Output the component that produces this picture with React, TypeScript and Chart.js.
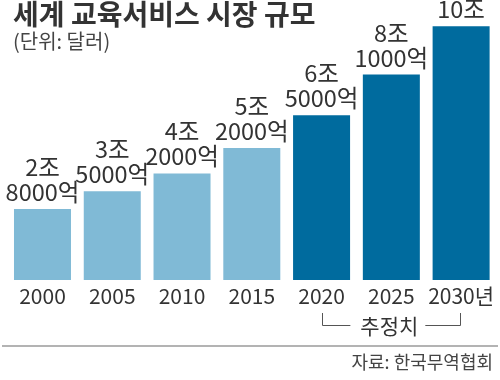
import React, { useEffect, useRef } from "react";
import { Chart, registerables } from "chart.js";

Chart.register(...registerables);

const years = ["2000", "2005", "2010", "2015", "2020", "2025", "2030"];
const yearTickLabels = ["2000", "2005", "2010", "2015", "2020", "2025", "2030년"];
const marketSize = [2.8, 3.5, 4.2, 5.2, 6.5, 8.1, 10.0]; // 조 달러
const labelJo = ["2조", "3조", "4조", "5조", "6조", "8조", "10조"];
const labelEok = ["8000억", "5000억", "2000억", "2000억", "5000억", "1000억", ""];
const estimateStartIndex = 4;
const estimateLabel = "추정치";

const TITLE = "세계 교육서비스 시장 규모";
const SUBTITLE = "(단위: 달러)";
const SOURCE = "자료: 한국무역협회";

const FONT = '"Noto Sans CJK KR", "Noto Sans", sans-serif';
const LIGHT = "#80bad6";
const DARK = "#006b9e";
const TEXT = "#333333";

const decorPlugin = {
  id: "decor",
  afterDatasetsDraw(chart: any) {
    const ctx = chart.ctx as CanvasRenderingContext2D;
    const xs = chart.scales.x;
    const meta = chart.getDatasetMeta(0);
    ctx.save();
    ctx.fillStyle = TEXT;
    ctx.textAlign = "center";
    ctx.textBaseline = "alphabetic";
    // value labels
    ctx.font = `23.5px ${FONT}`;
    meta.data.forEach((bar: any, i: number) => {
      const x = bar.x;
      const top = bar.y;
      if (labelEok[i]) {
        ctx.fillText(labelEok[i], x, top - 8);
        ctx.fillText(labelJo[i], x, top - 33);
      } else {
        ctx.fillText(labelJo[i], x, top - 8);
      }
    });
    // year labels
    ctx.font = `21px ${FONT}`;
    yearTickLabels.forEach((lab, i) => {
      const x = xs.getPixelForValue(i);
      ctx.fillText(lab, x, 304);
    });
    // bracket for estimates
    const xa = xs.getPixelForValue(estimateStartIndex);
    const xb = xs.getPixelForValue(years.length - 1);
    const xm = xs.getPixelForValue(Math.round((estimateStartIndex + years.length - 1) / 2));
    ctx.font = `21px ${FONT}`;
    const tw = ctx.measureText(estimateLabel).width;
    const by = 325.5;
    ctx.fillText(estimateLabel, xm - 2, by + 8);
    ctx.strokeStyle = "#555555";
    ctx.lineWidth = 1;
    ctx.beginPath();
    ctx.moveTo(Math.round(xa) + 0.5, 313);
    ctx.lineTo(Math.round(xa) + 0.5, by);
    ctx.lineTo(xm - 2 - tw / 2 - 10, by);
    ctx.moveTo(xm - 2 + tw / 2 + 7, by);
    ctx.lineTo(Math.round(xb) - 0.5, by);
    ctx.lineTo(Math.round(xb) - 0.5, 313);
    ctx.stroke();
    // bottom rule
    ctx.strokeStyle = "#9a9a9a";
    ctx.lineWidth = 1.5;
    ctx.beginPath();
    ctx.moveTo(2, 346);
    ctx.lineTo(498, 346);
    ctx.stroke();
    // source
    ctx.textAlign = "right";
    ctx.fillStyle = "#444444";
    ctx.font = `18px ${FONT}`;
    ctx.fillText(SOURCE, 493, 369);
    // title
    ctx.textAlign = "left";
    ctx.fillStyle = TEXT;
    ctx.font = `bold 28px ${FONT}`;
    ctx.fillText(TITLE, 13, 25);
    ctx.fillStyle = "#444444";
    ctx.font = `20px ${FONT}`;
    ctx.fillText(SUBTITLE, 13, 49);
    ctx.restore();
  },
};

export default function App() {
  const ref = useRef<HTMLCanvasElement | null>(null);
  useEffect(() => {
    if (!ref.current) return;
    const chart = new Chart(ref.current, {
      type: "bar",
      data: {
        labels: years,
        datasets: [
          {
            data: marketSize,
            backgroundColor: (c: any) => (c.dataIndex >= estimateStartIndex ? DARK : LIGHT),
            borderWidth: 0,
            barPercentage: 0.817,
            categoryPercentage: 1,
          },
        ],
      },
      options: {
        responsive: false,
        animation: false,
        layout: { padding: { left: 7.6, right: 4, top: 1, bottom: 100 } },
        plugins: { legend: { display: false }, tooltip: { enabled: false }, title: { display: false } },
        scales: {
          x: { display: false },
          y: { display: false, min: 0, max: 11 },
        },
      },
      plugins: [decorPlugin],
    });
    return () => chart.destroy();
  }, []);
  return (
    <div style={{ position: "absolute", left: 0, top: 0, width: 500, height: 380, background: "#fff" }}>
      <canvas ref={ref} width={500} height={380} style={{ display: "block" }} />
    </div>
  );
}
